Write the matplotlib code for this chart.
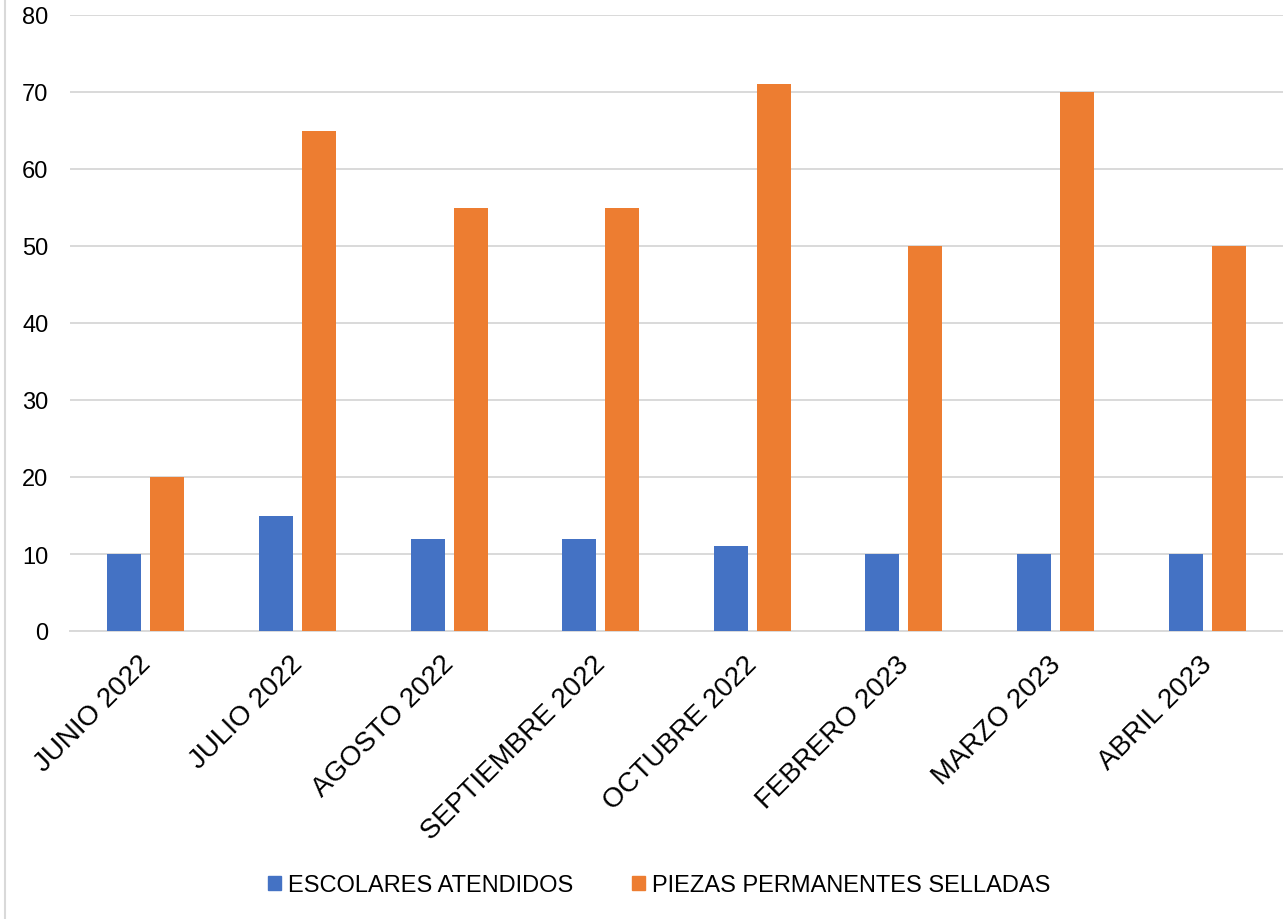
import matplotlib
matplotlib.use("Agg")
import matplotlib.pyplot as plt
import matplotlib.transforms as mtransforms
import numpy as np
from matplotlib.lines import Line2D

categories = ["JUNIO 2022", "JULIO 2022", "AGOSTO 2022", "SEPTIEMBRE 2022",
              "OCTUBRE 2022", "FEBRERO 2023", "MARZO 2023", "ABRIL 2023"]
escolares = [10, 15, 12, 12, 11, 10, 10, 10]
piezas = [20, 65, 55, 55, 71, 50, 70, 50]
series_names = ["ESCOLARES ATENDIDOS", "PIEZAS PERMANENTES SELLADAS"]
yticks = [0, 10, 20, 30, 40, 50, 60, 70, 80]

plt.rcParams['font.family'] = ['Liberation Sans', 'DejaVu Sans']

fig = plt.figure(figsize=(12.83, 9.2), dpi=100)
ax = fig.add_axes([70/1283, 1-632/920, 1-70/1283, (632-16)/920])

x = np.arange(len(categories))
w = 0.224
off = 0.142
ax.bar(x - off, escolares, w, color="#4472C4", label=series_names[0], zorder=3)
ax.bar(x + off, piezas, w, color="#ED7D31", label=series_names[1], zorder=3)

ax.set_xlim(-0.5, len(categories) - 0.5)
ax.set_ylim(0, 80)
ax.set_yticks(yticks)
ax.set_yticklabels([str(t) for t in yticks], fontsize=17)
ax.yaxis.grid(True, color="#d9d9d9", linewidth=1.4, zorder=0)
ax.set_axisbelow(True)
for s in ["top", "right", "left"]:
    ax.spines[s].set_visible(False)
ax.spines["bottom"].set_color("#d9d9d9")
ax.spines["bottom"].set_linewidth(1.4)
ax.tick_params(axis="both", length=0)
ax.tick_params(axis="y", pad=15.5)
ax.set_xticks(x)
ax.set_xticklabels(categories, fontsize=20, rotation=45, ha="right",
                   rotation_mode="anchor")
ax.tick_params(axis="x", pad=9)
shift = mtransforms.ScaledTranslation(-0.08, -0.07, fig.dpi_scale_trans)
for lbl in ax.get_xticklabels():
    lbl.set_transform(lbl.get_transform() + shift)

handles = [plt.Rectangle((0, 0), 1, 1, color="#4472C4"),
           plt.Rectangle((0, 0), 1, 1, color="#ED7D31")]
fig.legend(handles, series_names, loc="center", bbox_to_anchor=(0.514, 1-886/920),
           ncol=2, frameon=False, fontsize=17, handlelength=0.55, handleheight=0.55,
           handletextpad=0.3, columnspacing=2.5)

fig.add_artist(Line2D([5/1283, 5/1283], [0, 1], color="#d9d9d9", linewidth=1.5,
                      transform=fig.transFigure))

fig.savefig("out.png", dpi=100)
